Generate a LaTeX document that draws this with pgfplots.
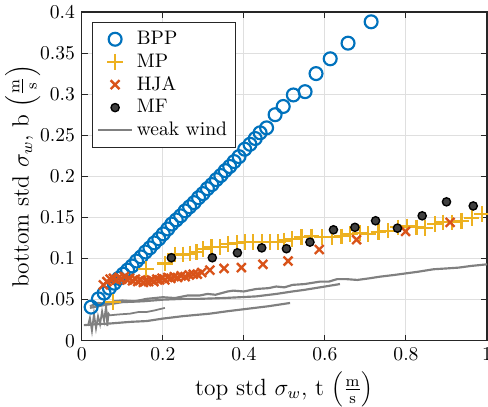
\documentclass[border=0pt]{standalone}
\usepackage{pgfplots}
\pgfplotsset{compat=1.18}
\definecolor{mblue}{RGB}{0,114,189}
\definecolor{myellow}{RGB}{237,177,32}
\definecolor{mred}{RGB}{217,83,25}
\definecolor{mgray}{RGB}{128,128,128}
\definecolor{axc}{RGB}{38,38,38}
\definecolor{gridc}{RGB}{223,223,223}
\begin{document}
\begin{tikzpicture}
\begin{axis}[
  name=ax,
  scale only axis,
  width=207pt, height=168pt,
  xmin=0, xmax=1, ymin=0, ymax=0.4,
  xtick={0,0.2,0.4,0.6,0.8,1},
  xticklabels={0,0.2,0.4,0.6,0.8,1},
  ytick={0,0.05,0.1,0.15,0.2,0.25,0.3,0.35,0.4},
  yticklabels={0,0.05,0.1,0.15,0.2,0.25,0.3,0.35,0.4},
  tick align=inside,
  major tick length=3pt,
  tick style={axc, line width=0.5pt},
  axis line style={axc, line width=0.6pt},
  grid=major,
  major grid style={gridc, line width=0.5pt},
  xlabel={\large top std $\sigma_w$, t $\left(\frac{\mathrm{m}}{\mathrm{s}}\right)$},
  ylabel={\large bottom std $\sigma_w$, b $\left(\frac{\mathrm{m}}{\mathrm{s}}\right)$},
  xlabel style={yshift=1.5pt},
  ylabel style={yshift=-7pt},
  legend style={at={(0.025,0.97)}, anchor=north west, draw=axc, line width=0.5pt, fill=white, font=\normalsize, row sep=-0.8pt, inner sep=2.5pt},
  legend cell align=left,
  legend image post style={},
]
% weak wind lines (under markers)
\addplot[mgray, line width=1.1pt, forget plot] coordinates {
(0.02,0.042)(0.04,0.046)(0.06,0.045)(0.08,0.048)(0.1,0.049)(0.13,0.048)(0.16,0.051)(0.2,0.053)(0.23,0.052)(0.26,0.055)(0.29,0.055)(0.31,0.057)(0.33,0.056)(0.36,0.060)(0.374,0.061)(0.40,0.060)(0.43,0.063)(0.46,0.064)(0.48,0.066)(0.5,0.065)(0.52,0.068)(0.55,0.069)(0.588,0.072)(0.61,0.072)(0.63,0.075)(0.653,0.075)(0.68,0.074)(0.71,0.076)(0.736,0.078)(0.77,0.080)(0.80,0.082)(0.83,0.084)(0.868,0.087)(0.90,0.088)(0.93,0.089)(0.96,0.091)(1.0,0.093)};
\addplot[mgray, line width=1.1pt, forget plot] coordinates {
(0.02,0.040)(0.05,0.043)(0.1,0.047)(0.15,0.048)(0.2,0.050)(0.25,0.051)(0.29,0.051)(0.35,0.052)(0.43,0.054)(0.48,0.057)(0.52,0.060)(0.55,0.062)(0.6,0.066)(0.637,0.069)};
\addplot[mgray, line width=0.9pt, forget plot] coordinates {
(0.015,0.018)(0.02,0.028)(0.025,0.012)(0.03,0.033)(0.035,0.015)(0.04,0.030)(0.045,0.020)(0.05,0.036)(0.055,0.024)(0.06,0.043)(0.063,0.018)(0.066,0.033)(0.069,0.031)(0.09,0.032)(0.119,0.033)(0.14,0.035)(0.16,0.035)(0.18,0.037)(0.205,0.040)};
\addplot[mgray, line width=1.1pt, forget plot] coordinates {
(0.005,0.019)(0.03,0.020)(0.069,0.021)(0.119,0.023)(0.16,0.024)(0.2,0.027)(0.25,0.030)(0.316,0.033)(0.36,0.036)(0.41,0.039)(0.46,0.042)(0.514,0.046)};
% BPP
\addplot[only marks, mark=o, mark size=3.3pt, mblue, line width=1.1pt] coordinates {
(0.023,0.041)(0.041,0.051)(0.055,0.058)(0.068,0.064)(0.080,0.070)(0.091,0.076)(0.102,0.081)(0.113,0.086)(0.124,0.091)(0.135,0.097)(0.146,0.102)(0.157,0.108)(0.168,0.113)(0.179,0.119)(0.190,0.124)(0.201,0.130)(0.212,0.136)(0.222,0.142)(0.233,0.147)(0.244,0.152)(0.255,0.158)(0.266,0.163)(0.277,0.168)(0.288,0.174)(0.299,0.179)(0.310,0.185)(0.321,0.190)(0.332,0.196)(0.343,0.201)(0.354,0.207)(0.365,0.212)(0.376,0.218)(0.388,0.224)(0.402,0.233)(0.415,0.239)(0.428,0.246)(0.440,0.253)(0.456,0.259)(0.477,0.275)(0.497,0.285)(0.522,0.299)(0.551,0.303)(0.578,0.325)(0.613,0.343)(0.657,0.362)(0.714,0.388)};
\addlegendentry{BPP}
% MP
\addplot[only marks, mark=+, mark size=4pt, myellow, line width=1.1pt] coordinates {
(0.077,0.047)(0.158,0.087)(0.205,0.094)(0.230,0.105)(0.250,0.105)(0.267,0.106)(0.283,0.108)(0.300,0.112)(0.320,0.114)(0.341,0.114)(0.361,0.118)(0.382,0.119)(0.402,0.120)(0.423,0.120)(0.444,0.120)(0.464,0.120)(0.485,0.120)(0.500,0.122)(0.518,0.124)(0.542,0.126)(0.567,0.127)(0.592,0.126)(0.617,0.126)(0.641,0.127)(0.662,0.130)(0.686,0.131)(0.707,0.130)(0.732,0.132)(0.756,0.134)(0.781,0.138)(0.802,0.139)(0.826,0.138)(0.847,0.137)(0.872,0.142)(0.892,0.144)(0.913,0.144)(0.937,0.146)(0.962,0.149)(0.987,0.154)};
\addlegendentry{MP}
% HJA
\addplot[only marks, mark=x, mark size=3.2pt, mred, line width=1.2pt] coordinates {
(0.053,0.068)(0.062,0.072)(0.070,0.075)(0.078,0.076)(0.085,0.074)(0.092,0.077)(0.098,0.075)(0.105,0.078)(0.112,0.074)(0.118,0.076)(0.125,0.073)(0.132,0.075)(0.138,0.072)(0.145,0.074)(0.152,0.071)(0.158,0.073)(0.165,0.072)(0.172,0.074)(0.178,0.072)(0.185,0.075)(0.192,0.074)(0.198,0.076)(0.205,0.074)(0.212,0.077)(0.220,0.076)(0.228,0.078)(0.236,0.077)(0.245,0.079)(0.255,0.078)(0.265,0.080)(0.275,0.081)(0.285,0.081)(0.296,0.083)(0.316,0.086)(0.351,0.088)(0.394,0.089)(0.447,0.093)(0.509,0.097)(0.586,0.111)(0.678,0.123)(0.799,0.133)(0.909,0.144)};
\addlegendentry{HJA}
% MF
\addplot[only marks, mark=*, mark size=2.1pt, draw=black, fill=black!75, line width=0.7pt] coordinates {
(0.221,0.101)(0.322,0.101)(0.384,0.107)(0.444,0.113)(0.505,0.112)(0.563,0.120)(0.621,0.135)(0.674,0.138)(0.725,0.146)(0.779,0.137)(0.840,0.152)(0.900,0.169)(0.966,0.164)};
\addlegendentry{MF}
\addlegendimage{mgray, line width=1.1pt}
\addlegendentry{weak wind}
\end{axis}
\pgfresetboundingbox
\path ([shift={(-41.8pt,-33.7pt)}]ax.south west) rectangle ([shift={(0.5pt,6.1pt)}]ax.north east);
\end{tikzpicture}
\end{document}
